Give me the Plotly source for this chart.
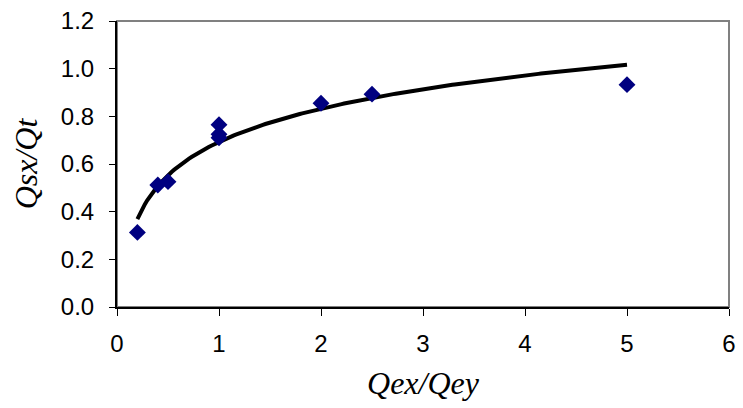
import numpy as np
import plotly.graph_objects as go

# Data
ratio_x = [0.2, 0.4, 0.5, 1.0, 1.0, 1.0, 2.0, 2.5, 5.0]
qsx_qt = [0.313, 0.512, 0.526, 0.765, 0.725, 0.71, 0.855, 0.893, 0.933]
x_ticks = [0, 1, 2, 3, 4, 5, 6]
y_ticks = [0.0, 0.2, 0.4, 0.6, 0.8, 1.0, 1.2]

# Logarithmic trendline (least squares on ln x), as the spreadsheet does
a, b = np.polyfit(np.log(ratio_x), qsx_qt, 1)
xf = np.linspace(min(ratio_x), max(ratio_x), 200)
yf = a * np.log(xf) + b

fig = go.Figure()
fig.add_trace(go.Scatter(x=xf, y=yf, mode="lines",
                         line=dict(color="black", width=4), hoverinfo="skip"))
fig.add_trace(go.Scatter(x=ratio_x, y=qsx_qt, mode="markers",
                         marker=dict(symbol="diamond", size=13, color="#000080",
                                     line=dict(width=0))))

fig.add_shape(type="rect", xref="paper", yref="paper", x0=0, y0=0, x1=1, y1=1,
              line=dict(color="#808080", width=2), layer="below")

tickfont = dict(family="Liberation Sans", size=24, color="black")
titlefont = dict(family="Liberation Serif", size=32, color="black")

fig.update_layout(
    width=743, height=408,
    margin=dict(l=117, r=7, t=21, b=101),
    paper_bgcolor="white", plot_bgcolor="white",
    showlegend=False,
    xaxis=dict(range=[0, 6], tickvals=x_ticks, ticktext=[str(v) for v in x_ticks],
               showgrid=False, zeroline=False, showline=True, linecolor="black",
               linewidth=2, ticks="outside", ticklen=7, tickcolor="black",
               tickfont=tickfont, ticklabelstandoff=7,
               title=dict(text="<i>Qex/Qey</i>", font=titlefont, standoff=16)),
    yaxis=dict(range=[0, 1.2], tickvals=y_ticks, ticktext=[f"{v:.1f}" for v in y_ticks],
               showgrid=False, zeroline=False, showline=True, linecolor="black",
               linewidth=2, ticks="outside", ticklen=6, tickcolor="black",
               tickfont=tickfont, ticklabelstandoff=10,
               title=dict(text="<i>Qsx/Qt</i>", font=titlefont, standoff=14)),
)

fig.write_html("out.html")
